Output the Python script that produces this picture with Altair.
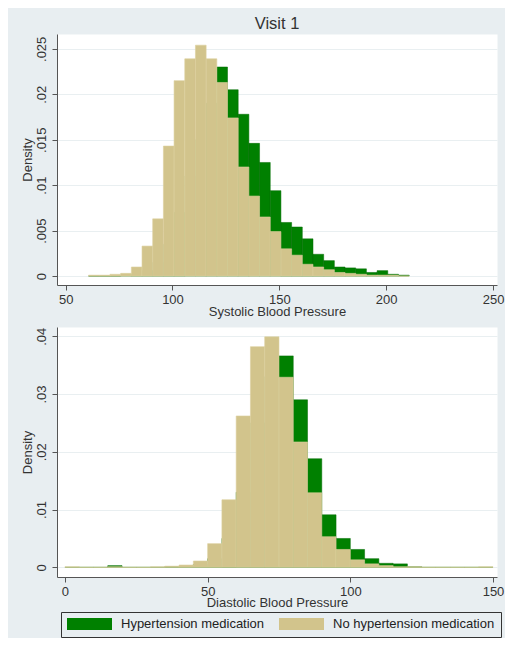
import altair as alt
import pandas as pd

# ---- data (densities per 5-unit bin) ----
groups = ["Hypertension medication", "No hypertension medication"]
colors = ["#008000", "#D2C48C"]

# Systolic: bins of width 5 starting at 60.75
sbp_start = 60.75
sbp_width = 5
sbp_no_med = [0.0001, 0.0001, 0.0002, 0.0003, 0.0010, 0.0033, 0.0063, 0.0143,
              0.0215, 0.0239, 0.0254, 0.0239, 0.0213, 0.0174, 0.0120, 0.0088,
              0.0065, 0.0049, 0.0030, 0.0023, 0.0013, 0.0010, 0.0007, 0.0004,
              0.0003, 0.0002, 0.0001, 0.0001, 0.0001, 0.0000]
sbp_med = [0.0000, 0.0000, 0.0000, 0.0001, 0.0002, 0.0006, 0.0015, 0.0035,
           0.0070, 0.0110, 0.0150, 0.0190, 0.0230, 0.0205, 0.0178, 0.0146,
           0.0125, 0.0094, 0.0059, 0.0054, 0.0041, 0.0024, 0.0017, 0.0010,
           0.0009, 0.0008, 0.0004, 0.0006, 0.0002, 0.0001]

# Diastolic: bins of width 5 starting at 0
dbp_start = 0
dbp_width = 5
dbp_no_med = [0.0001, 0.0000, 0.0000, 0.0001, 0.0000, 0.0000, 0.0001, 0.0002,
              0.0004, 0.0011, 0.0041, 0.0117, 0.0262, 0.0382, 0.0399, 0.0329,
              0.0217, 0.0129, 0.0053, 0.0031, 0.0013, 0.0006, 0.0003, 0.0001,
              0.0001, 0.0000, 0.0000, 0.0000, 0.0000, 0.0001]
dbp_med = [0.0000, 0.0000, 0.0000, 0.0003, 0.0000, 0.0000, 0.0000, 0.0001,
           0.0002, 0.0005, 0.0015, 0.0050, 0.0130, 0.0250, 0.0330, 0.0366,
           0.0290, 0.0188, 0.0091, 0.0050, 0.0031, 0.0015, 0.0007, 0.0006,
           0.0001, 0.0000, 0.0000, 0.0000, 0.0000, 0.0000]

sbp_ticks = [50, 100, 150, 200, 250]
sbp_yticks = [0, 0.005, 0.01, 0.015, 0.02, 0.025]
dbp_ticks = [0, 50, 100, 150]
dbp_yticks = [0, 0.01, 0.02, 0.03, 0.04]

FONT = "Liberation Sans"
TXT = "#333333"
AXC = "#555555"
W = 440


def frame(start, width, med, nomed):
    rows = []
    for g, vals in ((groups[0], med), (groups[1], nomed)):
        for i, v in enumerate(vals):
            lo = start + i * width
            rows.append({"group": g, "lo": lo, "hi": lo + width, "density": v})
    return pd.DataFrame(rows)


def yaxis(values):
    return alt.Axis(
        values=values, labelExpr="datum.value == 0 ? '0' : substring(toString(datum.value), 1)",
        labelAngle=270, labelAlign="center", labelBaseline="bottom",
        tickSize=5, labelPadding=4, title="Density", titlePadding=1,
        grid=True, gridColor="#E9EFF1", domainColor=AXC, tickColor=AXC,
        labelColor=TXT, titleColor=TXT, labelFontSize=13, titleFontSize=13,
        titleFontWeight="normal", labelFont=FONT, titleFont=FONT)


def xaxis(values, title, tpad):
    return alt.Axis(
        values=values, format="d", tickSize=5, labelPadding=3, title=title,
        titlePadding=tpad, grid=False, labelFlush=False, labelOverlap=False,
        domainColor=AXC, tickColor=AXC, labelColor=TXT, titleColor=TXT,
        labelFontSize=13, titleFontSize=13, titleFontWeight="normal",
        labelFont=FONT, titleFont=FONT)


legend = alt.Legend(
    title=None, orient="none", legendX=4, legendY=578, direction="horizontal",
    columns=2, symbolType="M-1,-0.27L1,-0.27L1,0.27L-1,0.27Z", symbolSize=2025,
    clipHeight=12, labelFontSize=13, labelFont=FONT, labelColor="#222222",
    labelOffset=9, columnPadding=14, padding=6, strokeColor="#333333",
    symbolStrokeWidth=0, symbolOpacity=1, labelLimit=220)

color = alt.Color("group:N", scale=alt.Scale(domain=groups, range=colors), legend=legend)


def panel(df, xdom, ydom, xticks, yticks, xtitle, h, tpad):
    base = alt.Chart(df).encode(
        x=alt.X("lo:Q", scale=alt.Scale(domain=xdom, nice=False, zero=False),
                axis=xaxis(xticks, xtitle, tpad)),
        x2="hi:Q",
        y=alt.Y("density:Q", scale=alt.Scale(domain=ydom, nice=False, zero=False),
                axis=yaxis(yticks)),
        y2=alt.datum(0),
        color=color,
    )
    med = base.mark_rect(stroke="#006A00", strokeWidth=0.5).transform_filter(
        alt.datum.group == groups[0])
    nomed = base.mark_rect(stroke="#DCD09E", strokeWidth=0.6).transform_filter(
        alt.datum.group == groups[1])
    return alt.layer(med, nomed).properties(width=W, height=h)


top = panel(frame(sbp_start, sbp_width, sbp_med, sbp_no_med),
            [45.96, 251.86], [-0.00098, 0.02663], sbp_ticks, sbp_yticks,
            "Systolic Blood Pressure", 251, -1).properties(
    title=alt.TitleParams("Visit 1", fontSize=16.5, fontWeight="normal", color=TXT,
                          font=FONT, anchor="middle", frame="group", offset=2))

bottom = panel(frame(dbp_start, dbp_width, dbp_med, dbp_no_med),
               [-2.79, 151.4], [-0.00167, 0.0416], dbp_ticks, dbp_yticks,
               "Diastolic Blood Pressure", 250, -2)

chart = alt.vconcat(top, bottom, spacing=42, bounds="flush").properties(
    padding={"left": 12, "top": 7, "right": 0, "bottom": 0},
    background="#E8EEF1",
).configure_view(fill="white", stroke="transparent")

chart.save("out.html", embed_options={"renderer": "svg", "actions": False})
